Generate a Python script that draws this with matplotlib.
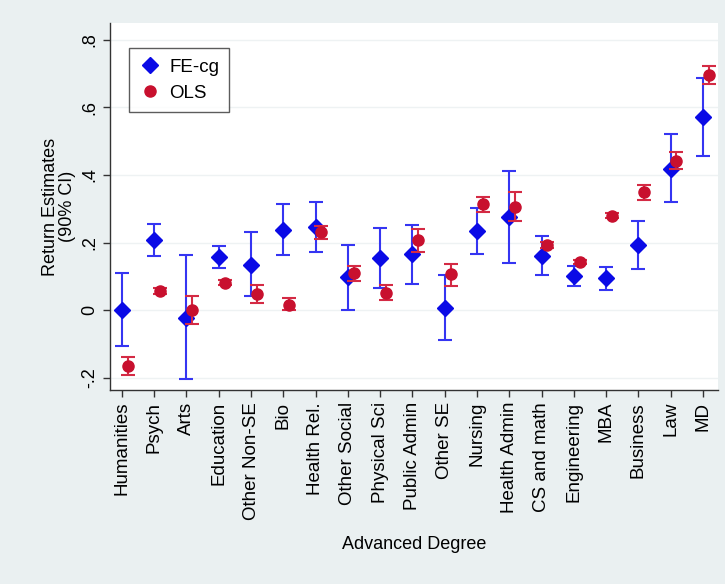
import numpy as np
import matplotlib
matplotlib.use("Agg")
import matplotlib.pyplot as plt

plt.rcParams['font.family'] = ['Liberation Sans', 'DejaVu Sans']

degrees = ["Humanities", "Psych", "Arts", "Education", "Other Non-SE", "Bio",
           "Health Rel.", "Other Social", "Physical Sci", "Public Admin", "Other SE",
           "Nursing", "Health Admin", "CS and math", "Engineering", "MBA",
           "Business", "Law", "MD"]

# FE-cg estimates with 90% CI
fe = [0.002, 0.207, -0.022, 0.158, 0.135, 0.237, 0.245, 0.097, 0.155, 0.165, 0.008,
      0.234, 0.277, 0.161, 0.101, 0.096, 0.193, 0.418, 0.571]
fe_lo = [-0.107, 0.161, -0.204, 0.126, 0.041, 0.162, 0.171, 0.002, 0.066, 0.079, -0.087,
         0.166, 0.141, 0.104, 0.072, 0.061, 0.123, 0.319, 0.456]
fe_hi = [0.110, 0.255, 0.163, 0.190, 0.230, 0.313, 0.321, 0.193, 0.244, 0.252, 0.104,
         0.301, 0.413, 0.221, 0.130, 0.127, 0.263, 0.520, 0.688]

# OLS estimates with 90% CI
ols = [-0.165, 0.056, 0.002, 0.081, 0.049, 0.017, 0.230, 0.109, 0.051, 0.207, 0.106,
       0.313, 0.306, 0.193, 0.143, 0.280, 0.349, 0.442, 0.696]
ols_lo = [-0.190, 0.048, -0.040, 0.074, 0.023, 0.000, 0.210, 0.087, 0.030, 0.171, 0.073,
          0.291, 0.264, 0.185, 0.136, 0.273, 0.326, 0.418, 0.670]
ols_hi = [-0.138, 0.065, 0.043, 0.089, 0.074, 0.035, 0.249, 0.130, 0.074, 0.240, 0.138,
          0.336, 0.349, 0.202, 0.150, 0.288, 0.370, 0.467, 0.723]

yticks = [-0.2, 0, 0.2, 0.4, 0.6, 0.8]
ytick_labels = ["-.2", "0", ".2", ".4", ".6", ".8"]

blue = "#0a0ae6"
blue_bar = "#3535f2"
red = "#c8102e"
red_bar = "#d42a44"

fig = plt.figure(figsize=(7.25, 5.84), dpi=100, facecolor="#eaf0f1")
ax = fig.add_axes([0.1517, 0.332, 0.8383, 0.629])
ax.set_facecolor("white")

x = np.arange(len(degrees))
fe = np.array(fe); ols = np.array(ols)
fe_err = [fe - np.array(fe_lo), np.array(fe_hi) - fe]
ols_err = [ols - np.array(ols_lo), np.array(ols_hi) - ols]

ax.errorbar(x, fe, yerr=fe_err, fmt="none", ecolor=blue_bar, elinewidth=1.5,
            capsize=5, capthick=1.5, zorder=2)
ax.plot(x, fe, "D", color=blue, markersize=8.5, label="FE-cg", zorder=3)
ax.errorbar(x + 0.18, ols, yerr=ols_err, fmt="none", ecolor=red_bar, elinewidth=1.5,
            capsize=5, capthick=1.5, zorder=4)
ax.plot(x + 0.18, ols, "o", color=red, markersize=8, label="OLS", zorder=5)

ax.set_xlim(-0.37, 18.46)
ax.set_ylim(-0.236, 0.85)
ax.set_yticks(yticks)
ax.set_yticklabels(ytick_labels, rotation=90, va="center", fontsize=13)
ax.set_xticks(x)
ax.set_xticklabels(degrees, rotation=90, fontsize=13.5)
ax.tick_params(axis="both", direction="out", length=5, width=1, color="#333333")
ax.grid(axis="y", color="#eef2f3", linewidth=1)
ax.set_axisbelow(True)

for s in ["top", "right"]:
    ax.spines[s].set_visible(False)
for s in ["left", "bottom"]:
    ax.spines[s].set_color("#333333")
    ax.spines[s].set_linewidth(1)

ax.set_ylabel("Return Estimates\n(90% CI)", fontsize=13, labelpad=4, linespacing=1.0)
ax.set_xlabel("Advanced Degree", fontsize=13, labelpad=12)

leg = ax.legend(loc="upper left", bbox_to_anchor=(0.031, 0.931), borderaxespad=0,
                fontsize=13.5, frameon=True, fancybox=False, edgecolor="#333333",
                handletextpad=0.4, borderpad=0.55, labelspacing=0.5, handlelength=1.2)
leg.get_frame().set_linewidth(1)

fig.savefig("out.png", dpi=100, facecolor=fig.get_facecolor())
